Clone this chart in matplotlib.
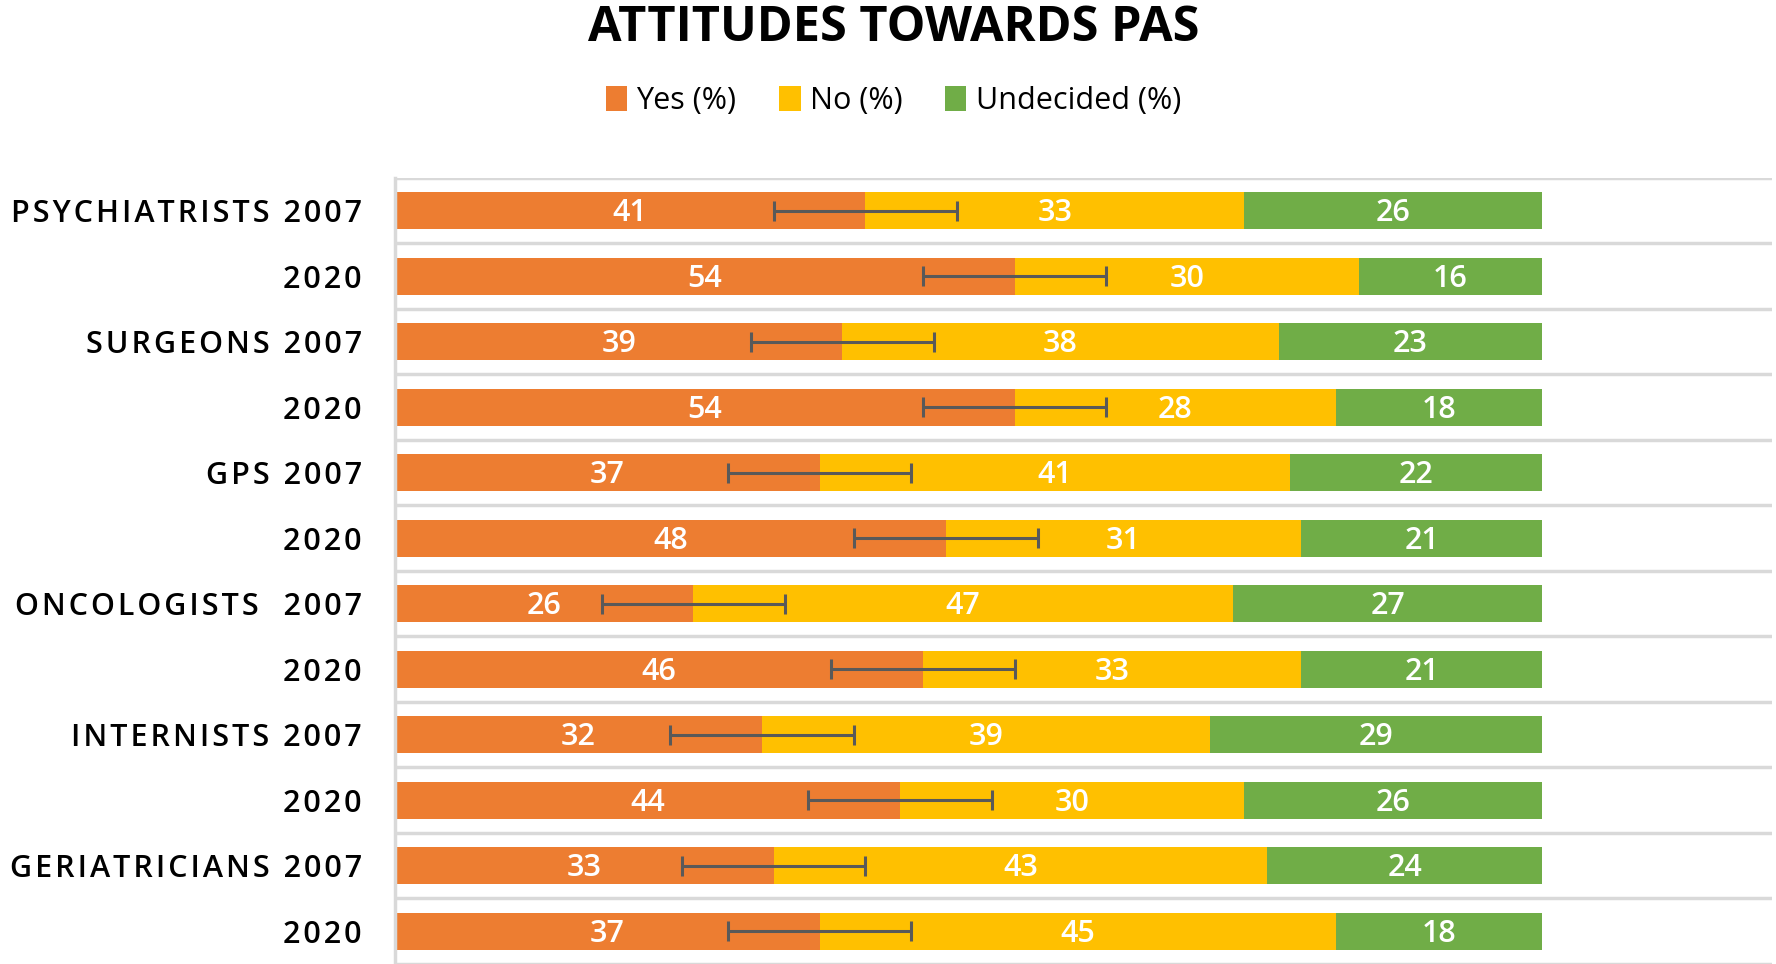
import matplotlib.pyplot as plt
import numpy as np

plt.rcParams['font.family'] = ['Open Sans', 'DejaVu Sans']

# -------------------------------
# Data
# -------------------------------
categories = ['PSYCHIATRISTS 2007', '2020', 'SURGEONS 2007', '2020',
              'GPS 2007', '2020', 'ONCOLOGISTS  2007', '2020',
              'INTERNISTS 2007', '2020', 'GERIATRICIANS 2007', '2020']
yes_pct = [41, 54, 39, 54, 37, 48, 26, 46, 32, 44, 33, 37]
no_pct = [33, 30, 38, 28, 41, 31, 47, 33, 39, 30, 43, 45]
undecided_pct = [26, 16, 23, 18, 22, 21, 27, 21, 29, 26, 24, 18]
yes_err = [8, 8, 8, 8, 8, 8, 8, 8, 8, 8, 8, 8]

colors = ['#ED7D31', '#FFC000', '#70AD47']
labels = ['Yes (%)', 'No (%)', 'Undecided (%)']


def spaced(s):
    # mimic letter spacing of the original axis labels
    return '\u200a'.join(s)


# -------------------------------
# Plot
# -------------------------------
fig = plt.figure(figsize=(17.76, 9.64), dpi=100)
ax = fig.add_axes([0.2224, 0.0, 0.7753, 0.8154])

y = np.arange(len(categories))
left = np.zeros(len(categories))
for vals, c, lab in zip([yes_pct, no_pct, undecided_pct], colors, labels):
    ax.barh(y, vals, left=left, height=0.57, color=c, label=lab, zorder=2)
    for yi, l, v in zip(y, left, vals):
        ax.text(l + v / 2, yi + 0.04, str(v), ha='center', va='center',
                color='white', fontsize=22, fontweight='semibold', zorder=4)
    left = left + np.array(vals)

ax.errorbar(yes_pct, y, xerr=yes_err, fmt='none', ecolor='#595959',
            elinewidth=2.2, capsize=7, capthick=2.2, zorder=3)

ax.set_xlim(0, 120)
ax.set_ylim(len(categories) - 0.5, -0.5)
ax.set_xticks([])
ax.set_yticks(y)
ax.set_yticklabels([spaced(c) for c in categories], fontsize=22,
                   fontweight='semibold')
ax.tick_params(axis='y', length=0, pad=24)

for b in np.arange(-0.5, len(categories), 1.0):
    ax.axhline(b, color='#D9D9D9', lw=2.5, zorder=1)

for s in ['top', 'right', 'bottom']:
    ax.spines[s].set_visible(False)
ax.spines['left'].set_color('#D9D9D9')
ax.spines['left'].set_linewidth(2.5)

fig.text(0.503, 0.97, 'ATTITUDES TOWARDS PAS', ha='center', va='center',
         fontsize=35, fontweight='bold')

fig.legend(loc='center', bbox_to_anchor=(0.503, 0.895), ncol=3, frameon=False,
           fontsize=22, handlelength=0.7, handleheight=0.9,
           handletextpad=0.3, columnspacing=1.4)

plt.savefig('out.png', dpi=100)
